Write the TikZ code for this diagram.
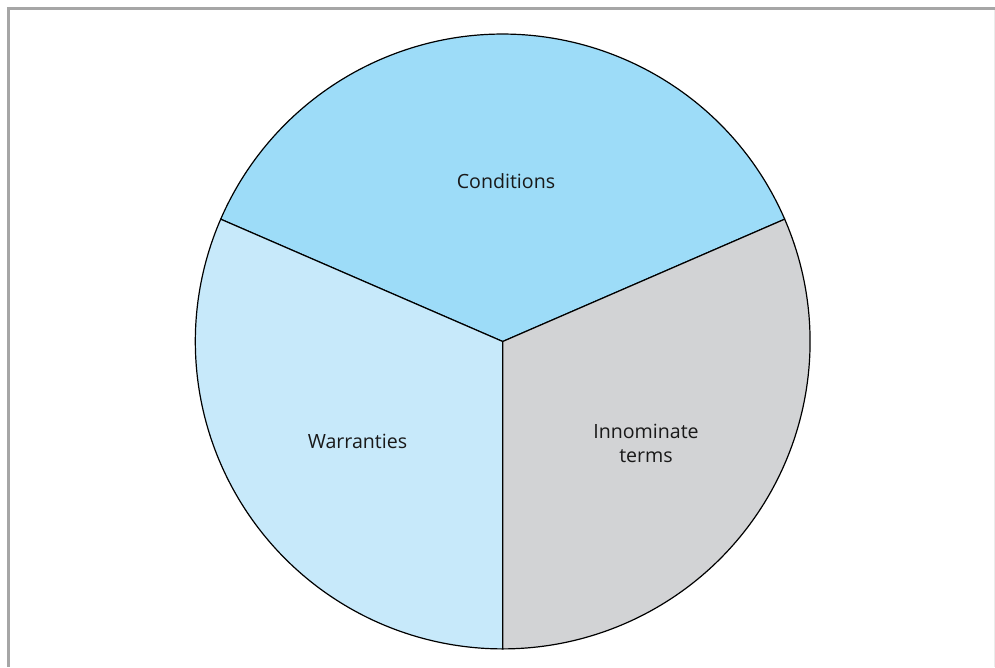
\documentclass[tikz,border=0pt]{standalone}
\usepackage{fontspec}
\setmainfont{Open Sans}
\definecolor{condblue}{RGB}{157,220,248}
\definecolor{warrblue}{RGB}{199,233,250}
\definecolor{innogray}{RGB}{210,211,213}
\definecolor{framegray}{RGB}{166,166,166}

\begin{document}
\begin{tikzpicture}[x=1pt, y=1pt, font=\fontsize{19.6}{24}\selectfont]
 % --- スタイル ---
 \tikzset{
    sector/.style={
        draw=black,
        line width=1.2pt,
        line join=round
    },
    termlabel/.style={
        align=center,
        text=black!90,
        inner sep=0pt
    },
    frameline/.style={
        draw=framegray,
        line width=3pt
    }
 }
 \def\R{307.4}

 % --- 外枠 ---
 \useasboundingbox (-502.7,-325.5) rectangle (492.3,341.5);
 \draw[frameline] (-495.7,333) -- (492.3,333);
 \draw[frameline] (-494.2,334.5) -- (-494.2,-325.5);
 \draw[draw=black!8, line width=1pt] (491.3,331) -- (491.3,-325.5);

 % --- 中心と境界点 ---
 \coordinate (Centre) at (0,0);
 \coordinate (EdgeRight) at (23.45:\R);
 \coordinate (EdgeLeft) at (156.55:\R);
 \coordinate (EdgeBottom) at (270:\R);

 % --- 扇形 ---
 \filldraw[sector, fill=condblue] (Centre) -- (EdgeRight)
    arc[start angle=23.45, end angle=156.55, radius=\R] -- cycle;
 \filldraw[sector, fill=warrblue] (Centre) -- (EdgeLeft)
    arc[start angle=156.55, end angle=270, radius=\R] -- cycle;
 \filldraw[sector, fill=innogray] (Centre) -- (EdgeBottom)
    arc[start angle=270, end angle=383.45, radius=\R] -- cycle;

 % --- ラベル ---
 \node[termlabel] (Conditions) at (3.3,160.5) {Conditions};
 \node[termlabel] (Warranties) at (-145.2,-99.5) {Warranties};
 \node[termlabel] (Innominate) at (143.3,-101.5) {Innominate\\terms};
\end{tikzpicture}
\end{document}
